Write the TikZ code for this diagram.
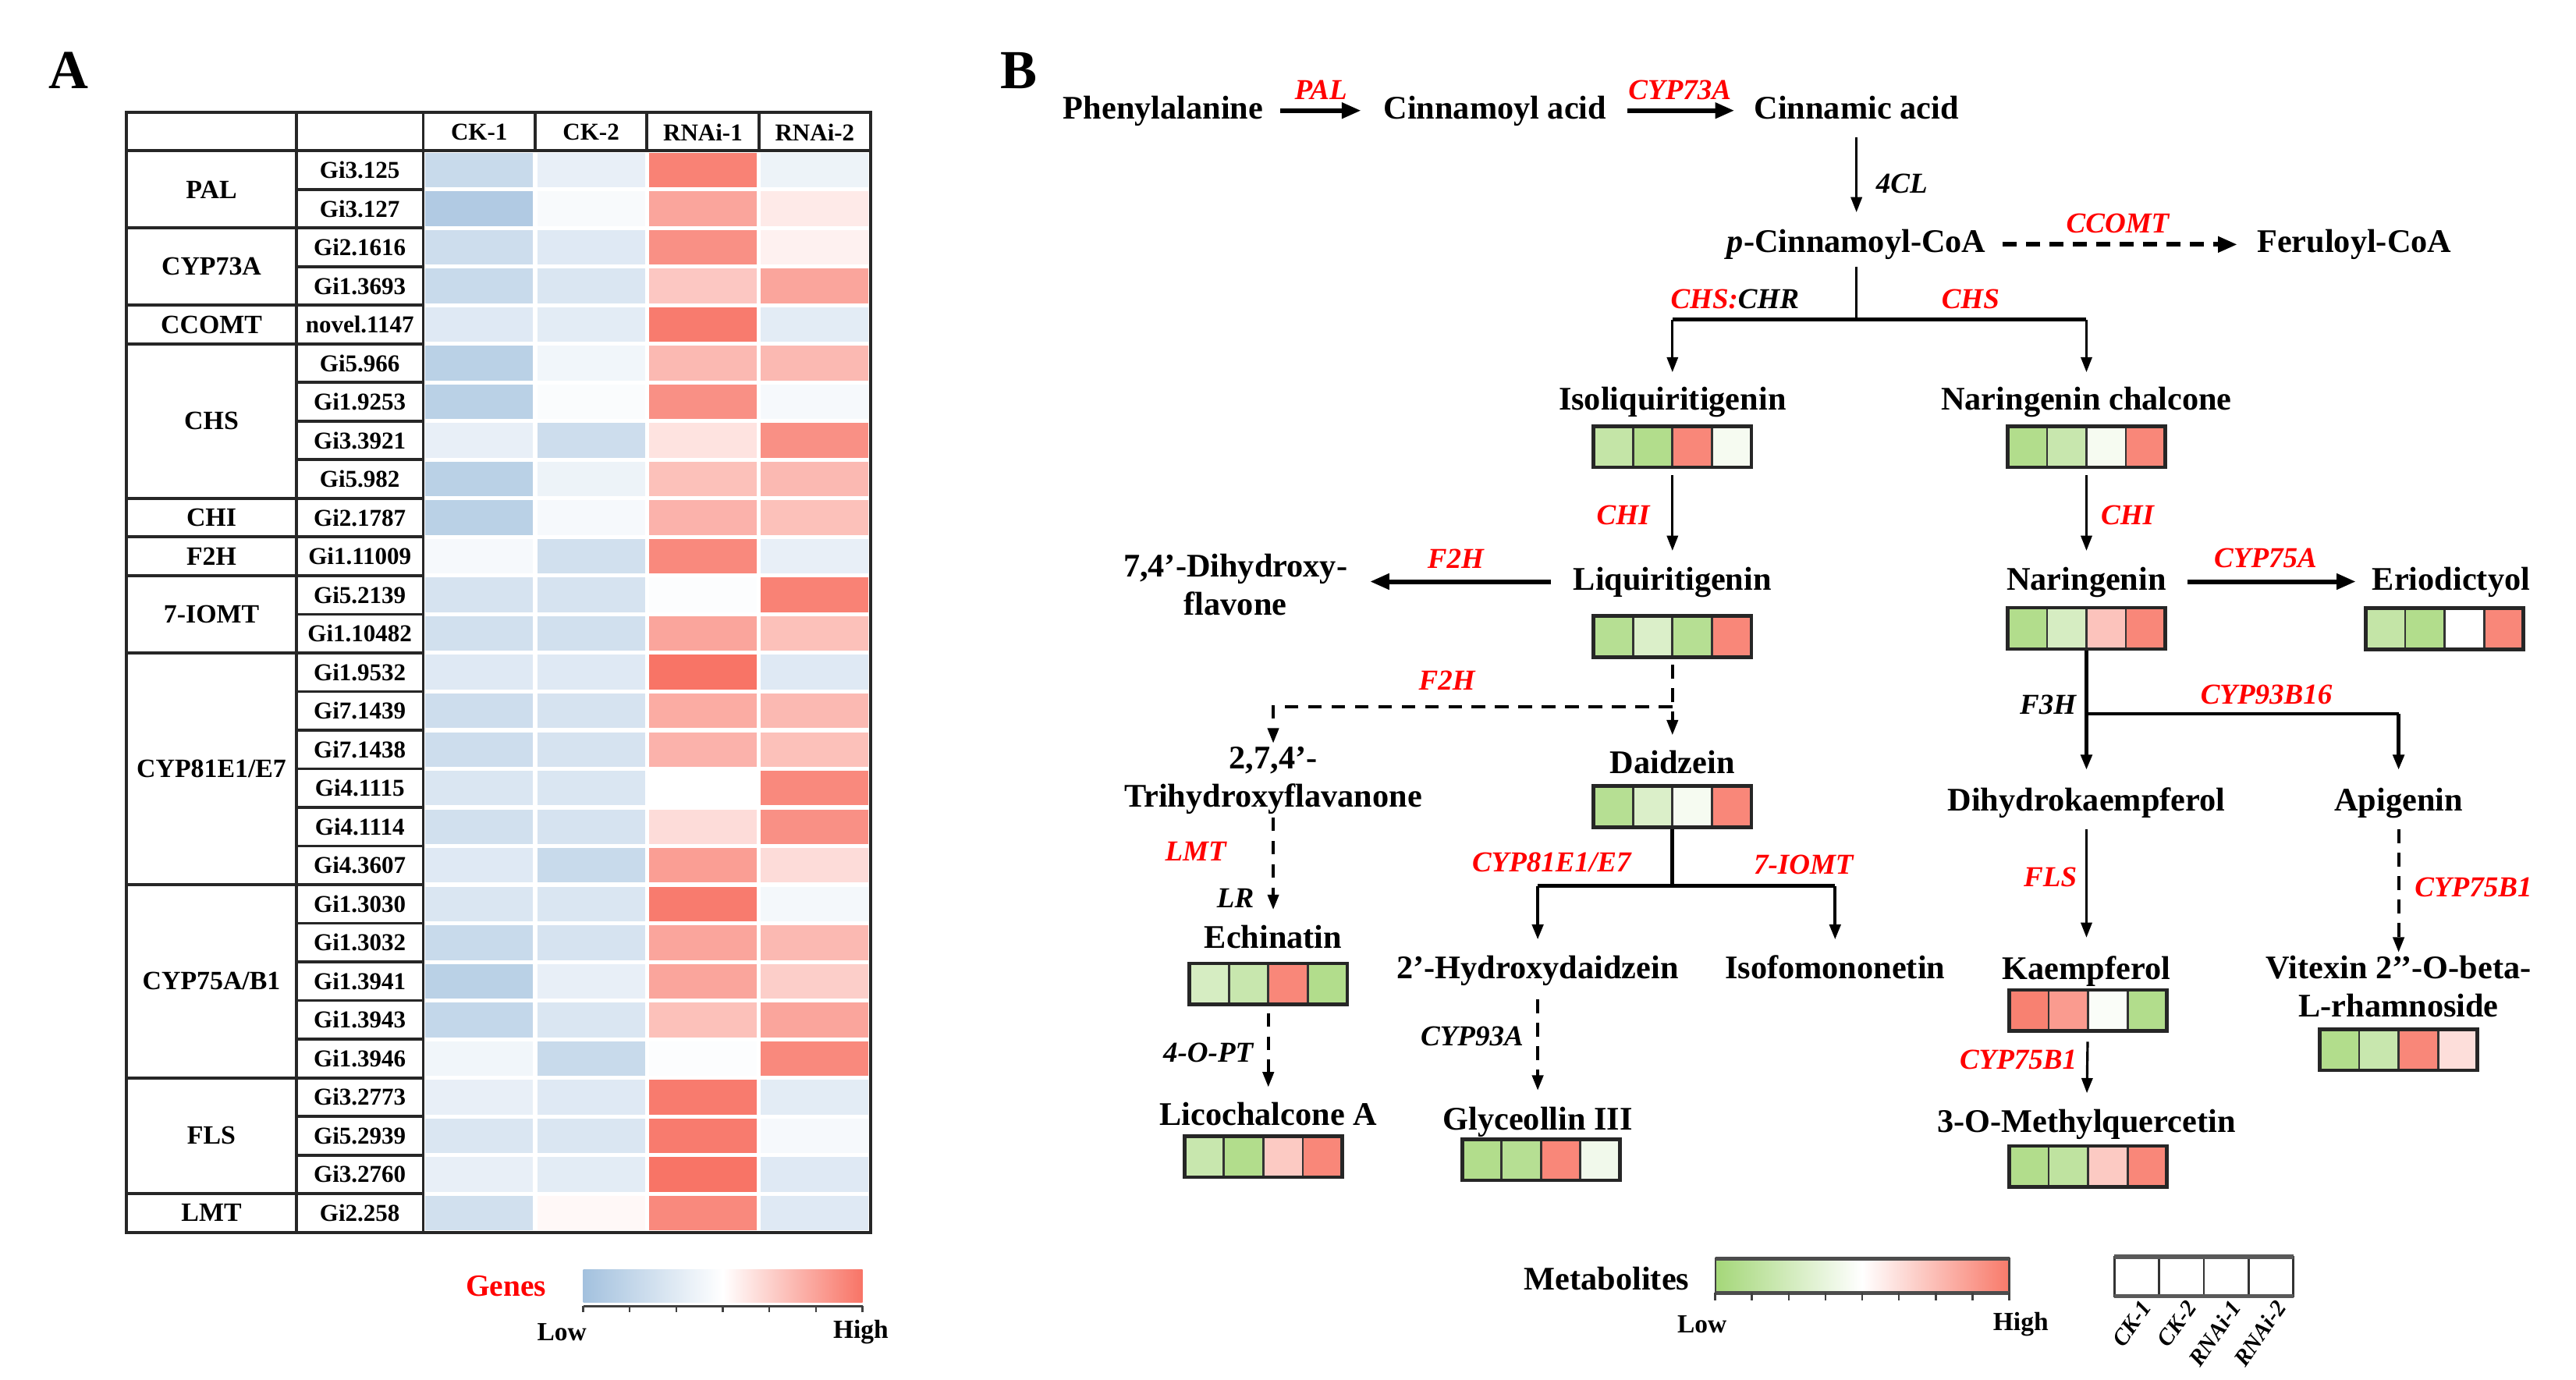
\documentclass[tikz,border=0pt]{standalone}
\usepackage{fontspec}
\setmainfont{Liberation Serif}
\usetikzlibrary{arrows.meta}

\definecolor{hblue}{RGB}{163,193,222}
\definecolor{hred}{RGB}{248,116,102}
\definecolor{mgreen}{RGB}{164,215,120}
\definecolor{mred}{RGB}{248,122,106}
\definecolor{enzred}{RGB}{255,0,0}

\newcommand\setcellcolor[3]{%
  \ifnum#3<0 \edef\cellpct{\the\numexpr0-(#3)\relax}\else\edef\cellpct{#3}\fi
  \ifnum#3<0 \colorlet{cellc}{#1!\cellpct!white}\else\colorlet{cellc}{#2!\cellpct!white}\fi}

\newcommand\metbox[7]{%
  \foreach \v [count=\j] in {#4,#5,#6,#7}{%
    \setcellcolor{mgreen}{mred}{\v}%
    \fill[cellc] ({#2-48+(\j-1)*24},{#3-12.5}) rectangle ({#2-48+\j*24},{#3+12.5});
  }
  \foreach \j in {1,2,3} \draw[line width=0.8pt, black!80] ({#2-48+\j*24},{#3-12.5}) -- ({#2-48+\j*24},{#3+12.5});
  \node[draw=black!85, line width=1.3pt, minimum width=57.36pt, minimum height=14.94pt, inner sep=0pt] (#1) at (#2,#3) {};
}

\tikzset{
  met/.style={font=\fontsize{12}{14}\selectfont\bfseries, align=center, inner sep=1pt, text height=8.5pt, text depth=2.5pt},
  met2/.style={font=\fontsize{12}{14}\selectfont\bfseries, align=center, inner sep=1pt},
  enz/.style={font=\fontsize{10.5}{12}\selectfont\bfseries\itshape, text=enzred, inner sep=0.5pt},
  enzk/.style={enz, text=black},
  gname/.style={font=\fontsize{8.8}{10}\selectfont\bfseries, inner sep=0pt},
  grp/.style={font=\fontsize{9.6}{11}\selectfont\bfseries, inner sep=0pt},
  lgtxt/.style={font=\fontsize{9.5}{11}\selectfont\bfseries, inner sep=0pt},
  tline/.style={line width=1.1pt, black!85},
  harr/.style={line width=1.7pt, -{Triangle[length=7pt,width=5.5pt]}},
  varr/.style={line width=0.9pt, -{Triangle[length=5.5pt,width=4pt]}},
  dvarr/.style={varr, line width=1.1pt, dash pattern=on 5pt off 3.5pt},
  dharr/.style={harr, dash pattern=on 5pt off 3.5pt},
  bline/.style={line width=1.4pt},
}

\begin{document}
\begin{tikzpicture}[x=0.021cm,y=-0.021cm]
\useasboundingbox (0,0) rectangle (1568,840);
\fill[white] (0,0) rectangle (1568,840);

% ================= Panel A =================
\node[font=\fontsize{20}{22}\selectfont\bfseries] (labA) at (42,43) {A};

\foreach \g/\va/\vb/\vc/\vd [count=\i] in {
 Gi3.125/-60/-25/90/-20,
 Gi3.127/-85/-8/65/15,
 Gi2.1616/-55/-35/80/10,
 Gi1.3693/-60/-40/40/65,
 novel.1147/-35/-30/95/-30,
 Gi5.966/-75/-15/50/50,
 Gi1.9253/-75/-5/80/-10,
 Gi3.3921/-25/-55/20/80,
 Gi5.982/-75/-20/45/50,
 Gi2.1787/-75/-10/55/45,
 Gi1.11009/-10/-50/85/-25,
 Gi5.2139/-45/-45/-3/90,
 Gi1.10482/-50/-50/65/45,
 Gi1.9532/-35/-35/100/-35,
 Gi7.1439/-55/-45/60/50,
 Gi7.1438/-55/-45/55/45,
 Gi4.1115/-40/-40/0/85,
 Gi4.1114/-50/-45/25/80,
 Gi4.3607/-35/-60/70/25,
 Gi1.3030/-40/-40/95/-12,
 Gi1.3032/-60/-45/65/50,
 Gi1.3941/-75/-25/65/35,
 Gi1.3943/-65/-40/45/65,
 Gi1.3946/-15/-60/-3/85,
 Gi3.2773/-25/-35/95/-30,
 Gi5.2939/-40/-40/95/-10,
 Gi3.2760/-25/-30/100/-35,
 Gi2.258/-50/5/85/-35}{
  \pgfmathsetmacro\yt{91.8+(\i-1)*23.51}
  \foreach \v [count=\j] in {\va,\vb,\vc,\vd}{
    \setcellcolor{hblue}{hred}{\v}
    \fill[cellc] ({257.6+(\j-1)*68.1+1.3},{\yt+1.2}) rectangle ({257.6+\j*68.1-1.3},{\yt+23.51-1.2});
  }
  \node[gname] (gene\i) at (219,{\yt+11.75}) {\g};
}

\draw[tline] (77,68.4) rectangle (530,750.2);
\draw[tline] (77,91.8) -- (530,91.8);
\draw[tline] (180.5,68.4) -- (180.5,750.2);
\draw[tline] (257.6,68.4) -- (257.6,750.2);
\foreach \x in {325.7,393.8,461.9} \draw[tline] (\x,68.4) -- (\x,91.8);
\foreach \b in {1,...,27} \draw[tline] (180.5,{91.8+\b*23.51}) -- (257.6,{91.8+\b*23.51});
\foreach \b in {2,4,5,9,10,11,13,19,24,27} \draw[tline] (77,{91.8+\b*23.51}) -- (180.5,{91.8+\b*23.51});

\foreach \t [count=\j] in {CK-1,CK-2,RNAi-1,RNAi-2}
  \node[gname] (hdr\j) at ({257.6+(\j-0.5)*68.1},80.5) {\t};

\foreach \a/\b/\nm [count=\k] in {1/2/PAL,3/4/CYP73A,5/5/CCOMT,6/9/CHS,10/10/CHI,11/11/F2H,12/13/7-IOMT,14/19/{CYP81E1/E7},20/24/{CYP75A/B1},25/27/FLS,28/28/LMT}
  \node[grp] (grp\k) at (128.7,{91.8+(\a+\b-1)*11.755}) {\nm};

% genes legend
\node[font=\fontsize{11.2}{13}\selectfont\bfseries, text=enzred, inner sep=0pt] (genesl) at (308,783) {Genes};
\shade[left color=hblue, right color=hred, middle color=white] (355,773) rectangle (525,793);
\draw[line width=0.9pt, black!75] (355,795) -- (525,795);
\foreach \k in {0,...,6} \draw[line width=0.7pt, black!75] ({355+\k*170/6},795) -- ++(0,3.5);
\node[lgtxt] (glow) at (342,811) {Low};
\node[lgtxt] (ghigh) at (524,811) {High};

% ================= Panel B =================
\node[font=\fontsize{20}{22}\selectfont\bfseries] (labB) at (620,43) {B};

\node[met] (phe) at (708,67.3) {Phenylalanine};
\node[met] (cinnamoyl) at (910,67.3) {Cinnamoyl acid};
\node[met] (cinnamic) at (1130,67.3) {Cinnamic acid};
\node[met] (pcoa) at (1130,148.8) {\textit{p}-Cinnamoyl-CoA};
\node[met] (feru) at (1433,148.8) {Feruloyl-CoA};
\node[met] (isoliq) at (1018,244.5) {Isoliquiritigenin};
\node[met] (narch) at (1270,244.5) {Naringenin chalcone};
\node[met] (liq) at (1018,354) {Liquiritigenin};
\node[met] (naring) at (1270,354) {Naringenin};
\node[met] (erio) at (1492,354) {Eriodictyol};
\node[met2] (dihyflav) at (752,356) {7,4’-Dihydroxy-\\flavone};
\node[met] (daid) at (1018,465.7) {Daidzein};
\node[met2] (trihyd) at (775,475) {2,7,4’-\\Trihydroxyflavanone};
\node[met] (echin) at (775,572) {Echinatin};
\node[met] (licoch) at (772,680) {Licochalcone A};
\node[met] (hydaid) at (936,590.5) {2’-Hydroxydaidzein};
\node[met] (isofom) at (1117,590.5) {Isofomononetin};
\node[met] (glyc) at (936,683) {Glyceollin III};
\node[met] (dihydk) at (1270,488.7) {Dihydrokaempferol};
\node[met] (apig) at (1460,488.7) {Apigenin};
\node[met] (kaemp) at (1270,591) {Kaempferol};
\node[met] (methq) at (1270,684) {3-O-Methylquercetin};
\node[met2] (vitex) at (1460,600.5) {Vitexin 2’’-O-beta-\\L-rhamnoside};

\metbox{isoliqbox}{1018}{272}{-65}{-85}{90}{-10}
\metbox{narchbox}{1270}{272}{-85}{-60}{-10}{90}
\metbox{liqbox}{1018}{387.5}{-80}{-40}{-80}{90}
\metbox{naringbox}{1270}{382.5}{-85}{-45}{45}{90}
\metbox{eriobox}{1488}{382.7}{-65}{-85}{0}{90}
\metbox{daidbox}{1018}{491}{-80}{-40}{-10}{90}
\metbox{echinbox}{772}{599}{-45}{-60}{90}{-85}
\metbox{licochbox}{769}{704}{-60}{-85}{40}{90}
\metbox{glycbox}{938}{706}{-85}{-80}{90}{-15}
\metbox{kaempbox}{1271}{615}{95}{75}{-5}{-85}
\metbox{methqbox}{1271}{710}{-85}{-70}{40}{90}
\metbox{vitexbox}{1460}{639}{-85}{-60}{90}{25}

% connectors
\draw[harr, shorten <=5pt, shorten >=7pt] (phe) -- (cinnamoyl);
\draw[harr, shorten <=6.5pt, shorten >=6pt] (cinnamoyl) -- (cinnamic);
\draw[varr, shorten <=3pt, shorten >=5pt] (cinnamic) -- (pcoa);
\draw[dharr, shorten <=5pt, shorten >=6pt] (pcoa) -- (feru);

\coordinate (chsj) at (1130,194.5);
\draw[line width=0.9pt, shorten <=1.4pt] (pcoa) -- (chsj);
\draw[bline] (chsj -| isoliq) -- (chsj -| narch);
\draw[varr, shorten >=4pt] (chsj -| isoliq) -- (isoliq);
\draw[varr, shorten >=4pt] (chsj -| narch) -- (narch);

\draw[varr, shorten <=2.2pt, shorten >=4.5pt] (isoliqbox) -- (liq);
\draw[varr, shorten <=2.2pt, shorten >=4.5pt] (narchbox) -- (naring);
\draw[harr, shorten <=7pt, shorten >=7pt] (liq.west) -- (liq.west -| dihyflav.east);
\draw[harr, shorten <=6.6pt, shorten >=4.8pt] (naring) -- (erio);

\draw[dvarr, shorten <=2.2pt, shorten >=4.2pt] (liqbox) -- (daid);
\coordinate (f2hj) at (1018,430.2);
\draw[dvarr] (f2hj) -| (trihyd);
\draw[dvarr, shorten >=4.2pt] (trihyd) -- (echin);
\draw[dvarr, shorten <=2.4pt, shorten >=4.2pt] (echinbox) -- (licoch);

\coordinate (daidj) at (1018,539.3);
\draw[bline] (daidbox) -- (daidj);
\draw[bline] (daidj -| hydaid) -- (daidj -| isofom);
\draw[varr, line width=1.2pt, shorten >=4.4pt] (daidj -| hydaid) -- (hydaid);
\draw[varr, line width=1.2pt, shorten >=4.4pt] (daidj -| isofom) -- (isofom);
\draw[dvarr, shorten <=4pt, shorten >=4.8pt] (hydaid) -- (glyc);

\coordinate (f3hj) at (1270,434.5);
\draw[varr, line width=1.3pt, shorten >=5.3pt] (naringbox) -- (dihydk);
\draw[bline] (f3hj) -- (f3hj -| apig);
\draw[varr, line width=1.3pt, shorten >=5.3pt] (f3hj -| apig) -- (apig);
\draw[varr, shorten <=2.8pt, shorten >=5.4pt] (dihydk) -- (kaemp);
\draw[varr, shorten <=3.3pt, shorten >=4.4pt] (kaempbox) -- (methq);
\draw[dvarr, shorten <=3pt] (apig) -- (vitex);

% enzyme labels
\node[enz] (lPAL) at (804,54.6) {PAL};
\node[enz] (lCYP73A) at (1022.5,54.6) {CYP73A};
\node[enzk] (l4CL) at (1157.6,111.6) {4CL};
\node[enz] (lCCOMT) at (1289,136) {CCOMT};
\node[enz] (lCHSCHR) at (1056,182) {CHS:\textcolor{black}{CHR}};
\node[enz] (lCHS) at (1199.4,182) {CHS};
\node[enz] (lCHI1) at (988,313.4) {CHI};
\node[enz] (lCHI2) at (1295,313.4) {CHI};
\node[enz] (lF2H1) at (886,340.3) {F2H};
\node[enz] (lCYP75A) at (1379,339.5) {CYP75A};
\node[enz] (lF2H2) at (880.7,414) {F2H};
\node[enzk] (lF3H) at (1246.6,429) {F3H};
\node[enz] (lCYP93B16) at (1379.5,422.6) {CYP93B16};
\node[enz] (lLMT) at (727.8,518.4) {LMT};
\node[enzk] (lLR) at (752,546.6) {LR};
\node[enz] (lCYP81) at (944.4,524.7) {CYP81E1/E7};
\node[enz] (l7IOMT) at (1097.8,526.3) {7-IOMT};
\node[enz] (lFLS) at (1248,534) {FLS};
\node[enz] (lCYP75B1a) at (1505.5,540) {CYP75B1};
\node[enzk] (l4OPT) at (735.4,641) {4-O-PT};
\node[enzk] (lCYP93A) at (896,631) {CYP93A};
\node[enz] (lCYP75B1b) at (1228.5,645) {CYP75B1};

% metabolites legend
\node[met] (metl) at (978,780) {Metabolites};
\shade[left color=mgreen, right color=mred, middle color=white] (1044,766) rectangle (1223,787);
\draw[line width=0.6pt, black!75] (1044,766) rectangle (1223,787);
\draw[line width=1.4pt, black!70] (1044,766) -- (1223,766) (1044,787) -- (1223,787);
\foreach \k in {0,...,8} \draw[line width=0.7pt, black!75] ({1044+\k*179/8},787) -- ++(0,4.5);
\node[lgtxt] (mlow) at (1036,806) {Low};
\node[lgtxt] (mhigh) at (1230,806) {High};

\foreach \j in {0,1,2,3} \draw[line width=0.8pt, black!80] ({1287+\j*27.25},765) rectangle ({1287+(\j+1)*27.25},789);
\draw[line width=1.5pt, black!65] (1287,765) -- (1396,765) (1287,789) -- (1396,789);
\foreach \t [count=\j] in {CK-1,CK-2,RNAi-1,RNAi-2}
  \node[rotate=55, anchor=east, inner sep=0pt, font=\fontsize{8.4}{9}\selectfont\bfseries\itshape] (samp\j) at ({1287+(\j-0.5)*27.25+6},793) {\t};
\end{tikzpicture}
\end{document}
